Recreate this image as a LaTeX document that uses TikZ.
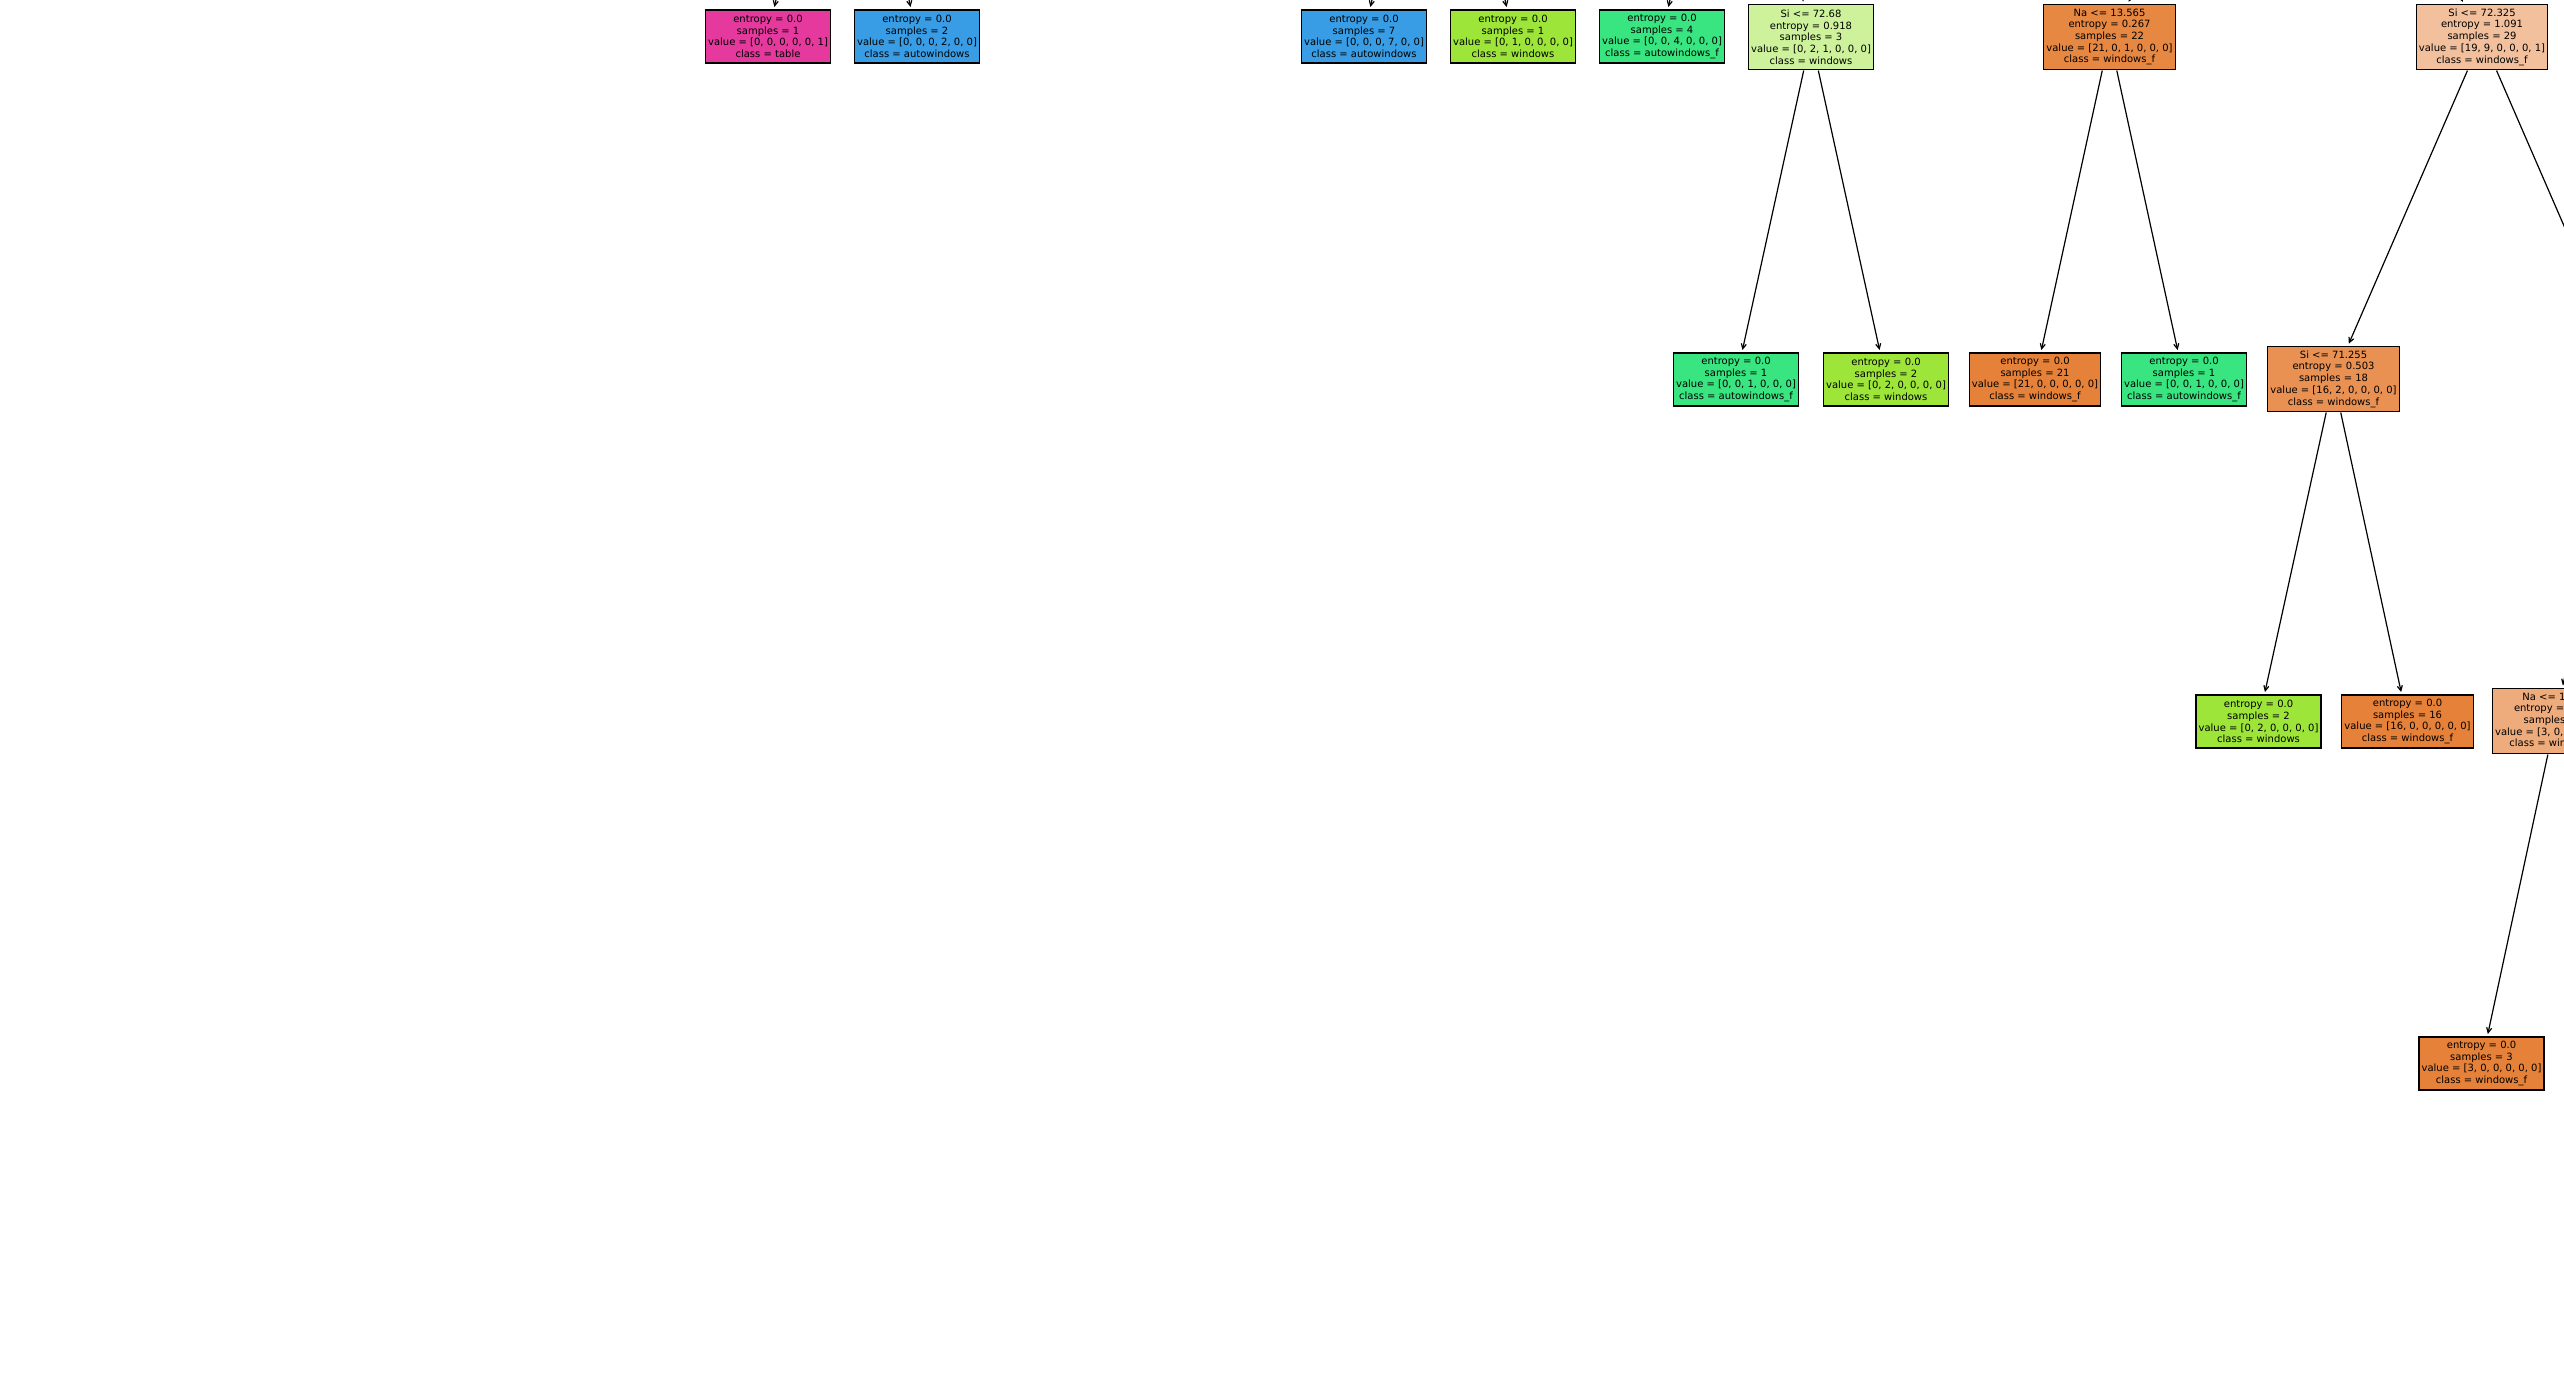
\documentclass[tikz,border=0pt]{standalone}
\usepackage{fontspec}
\setmainfont{DejaVu Sans}
\usetikzlibrary{arrows.meta}

% class colours and impurity-blended shades
\definecolor{cWinF}{RGB}{229,129,57}
\definecolor{cWin}{RGB}{157,229,57}
\definecolor{cAutoF}{RGB}{57,229,129}
\definecolor{cAuto}{RGB}{57,157,229}
\definecolor{cTable}{RGB}{229,57,157}
\definecolor{cSiA}{RGB}{206,242,156}
\definecolor{cNaA}{RGB}{230,135,66}
\definecolor{cSiB}{RGB}{242,192,156}
\definecolor{cSiC}{RGB}{232,145,82}
\definecolor{cNaB}{RGB}{238,171,123}

\begin{document}
\begin{tikzpicture}[x=1pt,y=-1pt,
  box/.style={draw=black,line width=1.1pt,rectangle,align=center,
    font=\fontsize{10}{11.7}\selectfont,inner xsep=2.6pt,inner ysep=0pt},
  leaf/.style={box,minimum height=53pt},
  split/.style={box,minimum height=65pt},
  edge/.style={line width=1.2pt,-{Straight Barb[length=5pt,width=5pt]},
    shorten >=2.5pt,shorten <=0.5pt}]
\useasboundingbox (0,0) rectangle (2564,1387);
\fill[white] (0,0) rectangle (2564,1387);
\clip (0,0) rectangle (2564,1387);

% parents lying above / beside the drawn part of the tree
\coordinate (p1) at (842.5,-305);
\coordinate (p2) at (1438.5,-305);
\coordinate (p3) at (1736.5,-305);
\coordinate (p4) at (2295.3,-305);
\coordinate (fr) at (2630.5,379);

% depth 0
\node[leaf,fill=cTable] (t1) at (768,36.5) {entropy = 0.0\\samples = 1\\value = [0, 0, 0, 0, 0, 1]\\class = table};
\node[leaf,fill=cAuto] (t2) at (917,36.5) {entropy = 0.0\\samples = 2\\value = [0, 0, 0, 2, 0, 0]\\class = autowindows};
\node[leaf,fill=cAuto] (a) at (1364,36.5) {entropy = 0.0\\samples = 7\\value = [0, 0, 0, 7, 0, 0]\\class = autowindows};
\node[leaf,fill=cWin] (b) at (1513,36.5) {entropy = 0.0\\samples = 1\\value = [0, 1, 0, 0, 0, 0]\\class = windows};
\node[leaf,fill=cAutoF] (c) at (1662,36.5) {entropy = 0.0\\samples = 4\\value = [0, 0, 4, 0, 0, 0]\\class = autowindows\_f};
\node[split,fill=cSiA] (d) at (1811,37) {Si <= 72.68\\entropy = 0.918\\samples = 3\\value = [0, 2, 1, 0, 0, 0]\\class = windows};
\node[split,fill=cNaA] (e) at (2109.5,37) {Na <= 13.565\\entropy = 0.267\\samples = 22\\value = [21, 0, 1, 0, 0, 0]\\class = windows\_f};
\node[split,fill=cSiB] (f) at (2482,37) {Si <= 72.325\\entropy = 1.091\\samples = 29\\value = [19, 9, 0, 0, 0, 1]\\class = windows\_f};

% depth 1
\node[leaf,fill=cAutoF] (g) at (1736,379.5) {entropy = 0.0\\samples = 1\\value = [0, 0, 1, 0, 0, 0]\\class = autowindows\_f};
\node[leaf,fill=cWin] (h) at (1886,379.5) {entropy = 0.0\\samples = 2\\value = [0, 2, 0, 0, 0, 0]\\class = windows};
\node[leaf,fill=cWinF] (i) at (2035,379.5) {entropy = 0.0\\samples = 21\\value = [21, 0, 0, 0, 0, 0]\\class = windows\_f};
\node[leaf,fill=cAutoF] (j) at (2184,379.5) {entropy = 0.0\\samples = 1\\value = [0, 0, 1, 0, 0, 0]\\class = autowindows\_f};
\node[split,fill=cSiC] (k) at (2333.5,379) {Si <= 71.255\\entropy = 0.503\\samples = 18\\value = [16, 2, 0, 0, 0, 0]\\class = windows\_f};

% depth 2
\node[leaf,fill=cWin] (l) at (2258.5,721.5) {entropy = 0.0\\samples = 2\\value = [0, 2, 0, 0, 0, 0]\\class = windows};
\node[leaf,fill=cWinF] (m) at (2407.5,721.5) {entropy = 0.0\\samples = 16\\value = [16, 0, 0, 0, 0, 0]\\class = windows\_f};
\node[split,fill=cNaB] (n) at (2555,721) {Na <= 13.78\\entropy = 0.811\\samples = 4\\value = [3, 0, 0, 0, 0, 1]\\class = windows\_f};

% depth 3
\node[leaf,fill=cWinF] (o) at (2481.5,1063.5) {entropy = 0.0\\samples = 3\\value = [3, 0, 0, 0, 0, 0]\\class = windows\_f};

% connectors
\draw[edge] (p1) -- (t1);
\draw[edge] (p1) -- (t2);
\draw[edge] (p2) -- (a);
\draw[edge] (p2) -- (b);
\draw[edge] (p3) -- (c);
\draw[edge] (p3) -- (d);
\draw[edge] (p4) -- (e);
\draw[edge] (p4) -- (f);
\draw[edge] (d) -- (g);
\draw[edge] (d) -- (h);
\draw[edge] (e) -- (i);
\draw[edge] (e) -- (j);
\draw[edge] (f) -- (k);
\draw[edge] (f) -- (fr);
\draw[edge] (k) -- (l);
\draw[edge] (k) -- (m);
\draw[edge] (fr) -- (n);
\draw[edge] (n) -- (o);
\end{tikzpicture}
\end{document}
